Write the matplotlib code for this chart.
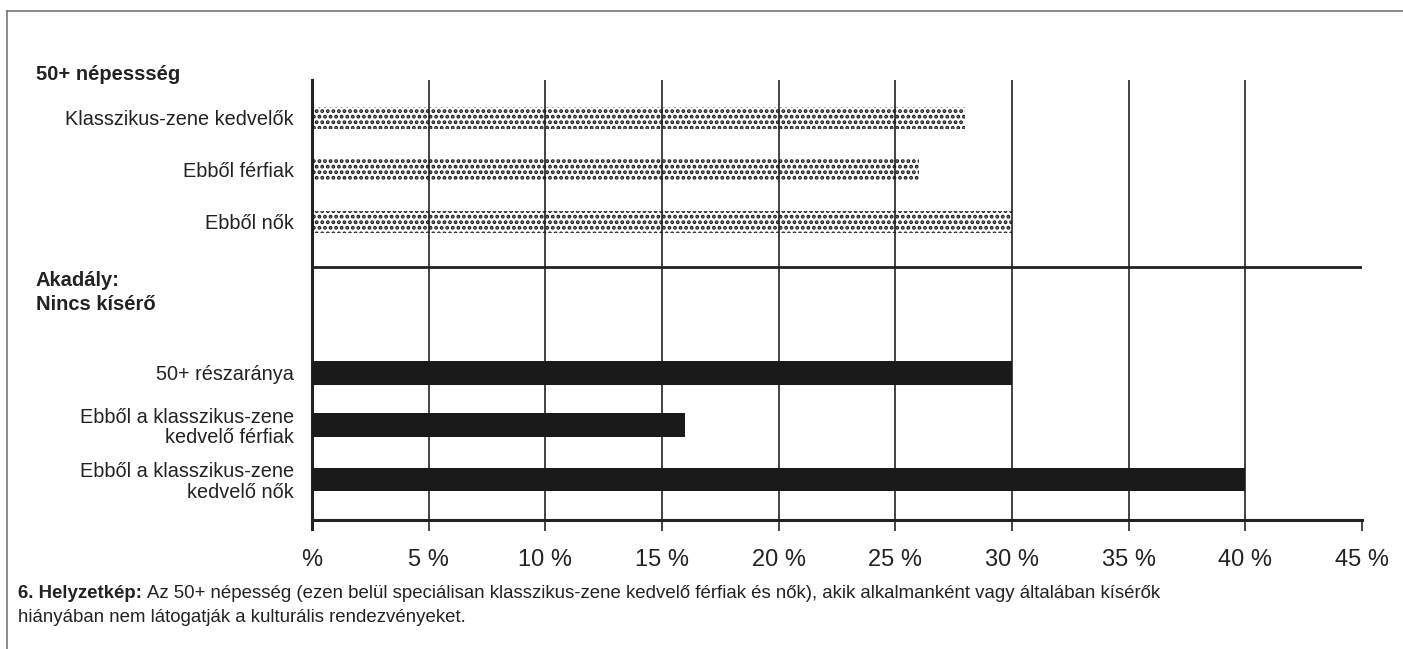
import matplotlib.pyplot as plt
from matplotlib.lines import Line2D

plt.rcParams['font.family'] = ['Liberation Sans', 'DejaVu Sans']
plt.rcParams['hatch.linewidth'] = 1.9

# 50+ népesség (pontozott sávok)
top_labels = ['Klasszikus-zene kedvelők', 'Ebből férfiak', 'Ebből nők']
top_values = [28, 26, 30]
# Akadály: nincs kísérő (fekete sávok)
bottom_labels = ['50+ részaránya', 'Ebből a klasszikus-zene\nkedvelő férfiak',
                 'Ebből a klasszikus-zene\nkedvelő nők']
bottom_values = [30, 16, 40]
x_ticks = [0, 5, 10, 15, 20, 25, 30, 35, 40, 45]
x_ticklabels = ['%', '5 %', '10 %', '15 %', '20 %', '25 %', '30 %', '35 %', '40 %', '45 %']

top_pos = [0, 1, 2]
bottom_pos = [4.9, 5.9, 6.95]

fig = plt.figure(figsize=(14.03, 6.49), dpi=100)
ax = fig.add_axes([312 / 1403, 1 - 520 / 649, 1050 / 1403, 440 / 649])

ax.barh(top_pos, top_values, height=0.44, color='none', edgecolor='#1a1a1a',
        linewidth=0, hatch='...', zorder=3)
ax.barh(bottom_pos, bottom_values, height=0.45, color='#1a1a1a', linewidth=0, zorder=3)

ax.set_xlim(0, 45)
ax.set_ylim(7.73, -0.73)
ax.set_xticks(x_ticks)
ax.set_xticklabels(x_ticklabels, fontsize=17, color='#222222')
ax.tick_params(axis='x', length=8, width=1.2, pad=13, color='#222222')
ax.set_yticks(top_pos + bottom_pos)
ax.set_yticklabels(top_labels + bottom_labels, fontsize=14.3, color='#222222',
                   linespacing=1.1)
ax.tick_params(axis='y', length=0, pad=13)
for t in ax.get_yticklabels():
    t.set_horizontalalignment('right')

for x in x_ticks[1:-1]:
    ax.axvline(x, color='#222222', lw=1.2, zorder=1)
ax.axhline(2.87, color='#222222', lw=2, zorder=2)

for s in ['top', 'right']:
    ax.spines[s].set_visible(False)
ax.spines['left'].set_linewidth(2.2)
ax.spines['bottom'].set_linewidth(2.2)
ax.spines['left'].set_color('#222222')
ax.spines['bottom'].set_color('#222222')
ax.spines['left'].set_bounds(7.9, -0.73)

# fejlécek
fig.text(36 / 1403, 1 - 74 / 649, '50+ népessség', fontsize=14.5, fontweight='bold',
         va='center', color='#222222')
fig.text(36 / 1403, 1 - 281 / 649, 'Akadály:', fontsize=14.5, fontweight='bold',
         va='center', color='#222222')
fig.text(36 / 1403, 1 - 305 / 649, 'Nincs kísérő', fontsize=14.5, fontweight='bold',
         va='center', color='#222222')

# képaláírás
fig.text(18 / 1403, 1 - 594 / 649, '6. Helyzetkép:', fontsize=13.4, fontweight='bold',
         va='center', color='#222222')
fig.text(147 / 1403, 1 - 594 / 649,
         'Az 50+ népesség (ezen belül speciálisan klasszikus-zene kedvelő férfiak és nők), '
         'akik alkalmanként vagy általában kísérők',
         fontsize=13.4, va='center', color='#222222')
fig.text(18 / 1403, 1 - 618 / 649,
         'hiányában nem látogatják a kulturális rendezvényeket.',
         fontsize=13.4, va='center', color='#222222')

# keret
fig.add_artist(Line2D([7 / 1403, 1], [1 - 11 / 649, 1 - 11 / 649],
                      transform=fig.transFigure, color='#777777', lw=1.2))
fig.add_artist(Line2D([7 / 1403, 7 / 1403], [0, 1 - 11 / 649],
                      transform=fig.transFigure, color='#777777', lw=1.2))

fig.savefig('out.png', dpi=100)
